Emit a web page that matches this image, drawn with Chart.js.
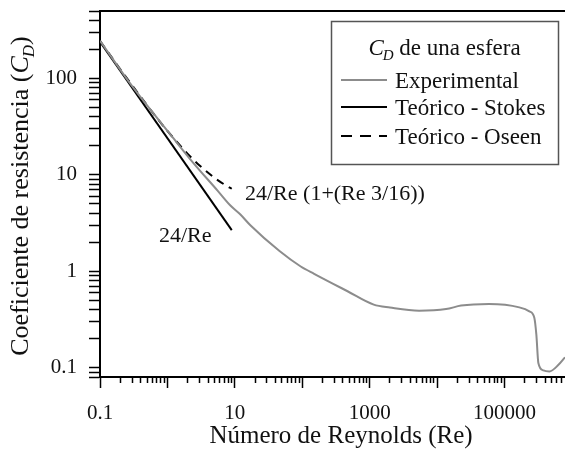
<!DOCTYPE html>
<html>
<head>
<meta charset="utf-8">
<script src="https://cdn.jsdelivr.net/npm/chart.js@4/dist/chart.umd.min.js"></script>
<style>
  html, body { margin: 0; padding: 0; background: #fff; }
  canvas { display: block; }
</style>
</head>
<body>
<canvas id="chart" width="565" height="453"></canvas>
<script>
// Drag coefficient of a sphere versus Reynolds number
const reExperimental = [0.1, 0.3, 1.2, 2.4, 5.5, 8.6, 12, 17, 46, 95, 150, 470, 1150, 2000, 5400, 13600, 22700, 59000, 166000, 234000, 277000, 297000, 318000, 378000, 464000, 632000, 790000];
const cdExperimental = [245, 83, 24.4, 13.4, 6.9, 4.8, 3.9, 3.0, 1.62, 1.12, 0.94, 0.62, 0.45, 0.42, 0.39, 0.405, 0.44, 0.457, 0.422, 0.384, 0.33, 0.22, 0.112, 0.0935, 0.0914, 0.107, 0.128];

// Stokes law, 24/Re
const reStokes = [0.1, 9];
const cdStokes = [240, 2.667];

// Oseen correction, 24/Re (1 + 3Re/16)
const reOseen = [0.1, 0.2, 0.5, 1, 2, 3, 5, 7, 9];
const cdOseen = [244.5, 124.5, 52.5, 28.5, 16.5, 12.5, 9.3, 7.93, 7.17];

// Axis ranges and ticks
const xMin = 0.1, xMax = 790000;
const yMin = 0.08, yMax = 500;
const xDecades = [0.1, 1, 10, 100, 1000, 10000, 100000];
const xDecadeLabels = ['0.1', '', '10', '', '1000', '', '100000'];
const yDecades = [0.1, 1, 10, 100];
const yDecadeLabels = ['0.1', '1', '10', '100'];
const multipliers = [2, 3, 4, 5, 6, 7, 8, 9];

const xMinorTicks = [];
xDecades.forEach(d => multipliers.forEach(m => { const v = d * m; if (v < xMax) xMinorTicks.push(v); }));
const yTicks = [0.08, 0.09];
yDecades.forEach(d => { yTicks.push(d); multipliers.forEach(m => { const v = d * m; if (v <= yMax) yTicks.push(v); }); });

const toPoints = (xs, ys) => xs.map((x, i) => ({ x: x, y: ys[i] }));

const serif = '"Liberation Serif", "Times New Roman", serif';
const ink = '#111';

// Writes an italic C with a subscript italic D; returns the width used
function drawCD(ctx, x, y, size, measureOnly) {
  ctx.font = 'italic ' + size + 'px ' + serif;
  const wc = ctx.measureText('C').width;
  if (!measureOnly) ctx.fillText('C', x, y);
  const sub = Math.round(size * 0.66);
  ctx.font = 'italic ' + sub + 'px ' + serif;
  const wd = ctx.measureText('D').width;
  if (!measureOnly) ctx.fillText('D', x + wc - 1, y + size * 0.22);
  return wc - 1 + wd;
}

const decorations = {
  id: 'decorations',
  afterDraw(chart) {
    const ctx = chart.ctx;
    const a = chart.chartArea;
    ctx.save();

    // upper frame line
    ctx.strokeStyle = '#000';
    ctx.lineWidth = 2;
    ctx.beginPath();
    ctx.moveTo(a.left - 1, a.top);
    ctx.lineTo(a.right, a.top);
    ctx.stroke();

    ctx.fillStyle = ink;
    ctx.textBaseline = 'alphabetic';

    // x axis title
    ctx.font = '25px ' + serif;
    ctx.textAlign = 'center';
    ctx.fillText('Número de Reynolds (Re)', 341, 443);

    // y axis title, rotated
    ctx.save();
    ctx.translate(28, 196);
    ctx.rotate(-Math.PI / 2);
    ctx.textAlign = 'left';
    const size = 26;
    ctx.font = size + 'px ' + serif;
    const pre = 'Coeficiente de resistencia (';
    const wPre = ctx.measureText(pre).width;
    const wCD = drawCD(ctx, 0, 0, size, true);
    ctx.font = size + 'px ' + serif;
    const wPost = ctx.measureText(')').width;
    let x0 = -(wPre + wCD + wPost) / 2;
    ctx.fillText(pre, x0, 0);
    x0 += wPre;
    x0 += drawCD(ctx, x0, 0, size, false);
    ctx.font = size + 'px ' + serif;
    ctx.fillText(')', x0, 0);
    ctx.restore();

    // curve annotations
    ctx.textAlign = 'left';
    ctx.font = '22px ' + serif;
    ctx.fillText('24/Re (1+(Re 3/16))', 245, 200);
    ctx.fillText('24/Re', 159, 242);

    // legend box
    const box = { l: 331, t: 21, r: 558, b: 164 };
    ctx.strokeStyle = '#555';
    ctx.lineWidth = 1.5;
    ctx.strokeRect(box.l + 0.5, box.t + 0.5, box.r - box.l, box.b - box.t);

    // legend title
    const ls = 23;
    ctx.font = ls + 'px ' + serif;
    const rest = ' de una esfera';
    const wRest = ctx.measureText(rest).width;
    const wT = drawCD(ctx, 0, 0, ls, true) + wRest;
    let tx = (box.l + box.r) / 2 - wT / 2;
    tx += drawCD(ctx, tx, 55, ls, false);
    ctx.font = ls + 'px ' + serif;
    ctx.fillText(rest, tx, 55);

    // legend entries
    const entries = [
      { label: 'Experimental', y: 80, color: '#8c8c8c', dash: [] },
      { label: 'Teórico - Stokes', y: 107, color: '#000', dash: [] },
      { label: 'Teórico - Oseen', y: 136, color: '#000', dash: [11, 8] }
    ];
    entries.forEach(e => {
      ctx.strokeStyle = e.color;
      ctx.lineWidth = 2;
      ctx.setLineDash(e.dash);
      ctx.beginPath();
      ctx.moveTo(341, e.y);
      ctx.lineTo(387, e.y);
      ctx.stroke();
      ctx.setLineDash([]);
      ctx.fillStyle = ink;
      ctx.font = ls + 'px ' + serif;
      ctx.fillText(e.label, 395, e.y + 7.5);
    });

    ctx.restore();
  }
};

const tickFont = { family: serif, size: 21 };

new Chart(document.getElementById('chart'), {
  type: 'line',
  data: {
    datasets: [
      {
        label: 'Experimental',
        data: toPoints(reExperimental, cdExperimental),
        borderColor: '#8c8c8c',
        borderWidth: 2,
        cubicInterpolationMode: 'monotone',
        pointRadius: 0
      },
      {
        label: 'Teórico - Stokes',
        data: toPoints(reStokes, cdStokes),
        borderColor: '#000',
        borderWidth: 2,
        pointRadius: 0
      },
      {
        label: 'Teórico - Oseen',
        data: toPoints(reOseen, cdOseen),
        borderColor: '#000',
        borderWidth: 2,
        borderDash: [8, 6],
        cubicInterpolationMode: 'monotone',
        pointRadius: 0
      }
    ]
  },
  options: {
    responsive: false,
    animation: false,
    events: [],
    layout: { padding: { top: 11, left: 0, right: 0, bottom: 0 } },
    plugins: { legend: { display: false }, tooltip: { enabled: false } },
    scales: {
      x: {
        type: 'logarithmic',
        position: 'bottom',
        weight: 1,
        min: xMin,
        max: xMax,
        afterBuildTicks: s => { s.ticks = xDecades.map(v => ({ value: v })); },
        afterFit: s => { s.height = 76; s.paddingLeft = 0; s.paddingRight = 0; },
        ticks: {
          autoSkip: false,
          maxRotation: 0,
          minRotation: 0,
          padding: 13,
          color: ink,
          font: tickFont,
          callback: (v, i) => xDecadeLabels[i]
        },
        grid: { drawOnChartArea: false, drawTicks: true, tickLength: 11, tickWidth: 1.5, tickColor: '#000' },
        border: { display: true, color: '#000', width: 2 }
      },
      xMinor: {
        type: 'logarithmic',
        position: 'bottom',
        weight: 0,
        min: xMin,
        max: xMax,
        afterBuildTicks: s => { s.ticks = xMinorTicks.map(v => ({ value: v })); },
        afterFit: s => { s.height = 0; s.paddingLeft = 0; s.paddingRight = 0; },
        ticks: { display: false, autoSkip: false },
        grid: { drawOnChartArea: false, drawTicks: true, tickLength: 6, tickWidth: 1.5, tickColor: '#000' },
        border: { display: false }
      },
      y: {
        type: 'logarithmic',
        position: 'left',
        min: yMin,
        max: yMax,
        afterBuildTicks: s => { s.ticks = yTicks.map(v => ({ value: v })); },
        afterFit: s => { s.width = 100; s.paddingTop = 0; s.paddingBottom = 0; },
        ticks: {
          autoSkip: false,
          padding: 12,
          color: ink,
          font: tickFont,
          callback: v => { const k = yDecades.indexOf(v); return k >= 0 ? yDecadeLabels[k] : ''; }
        },
        grid: { drawOnChartArea: false, drawTicks: true, tickLength: 11, tickWidth: 1.5, tickColor: '#000' },
        border: { display: true, color: '#000', width: 2 }
      }
    }
  },
  plugins: [decorations]
});
</script>
</body>
</html>
